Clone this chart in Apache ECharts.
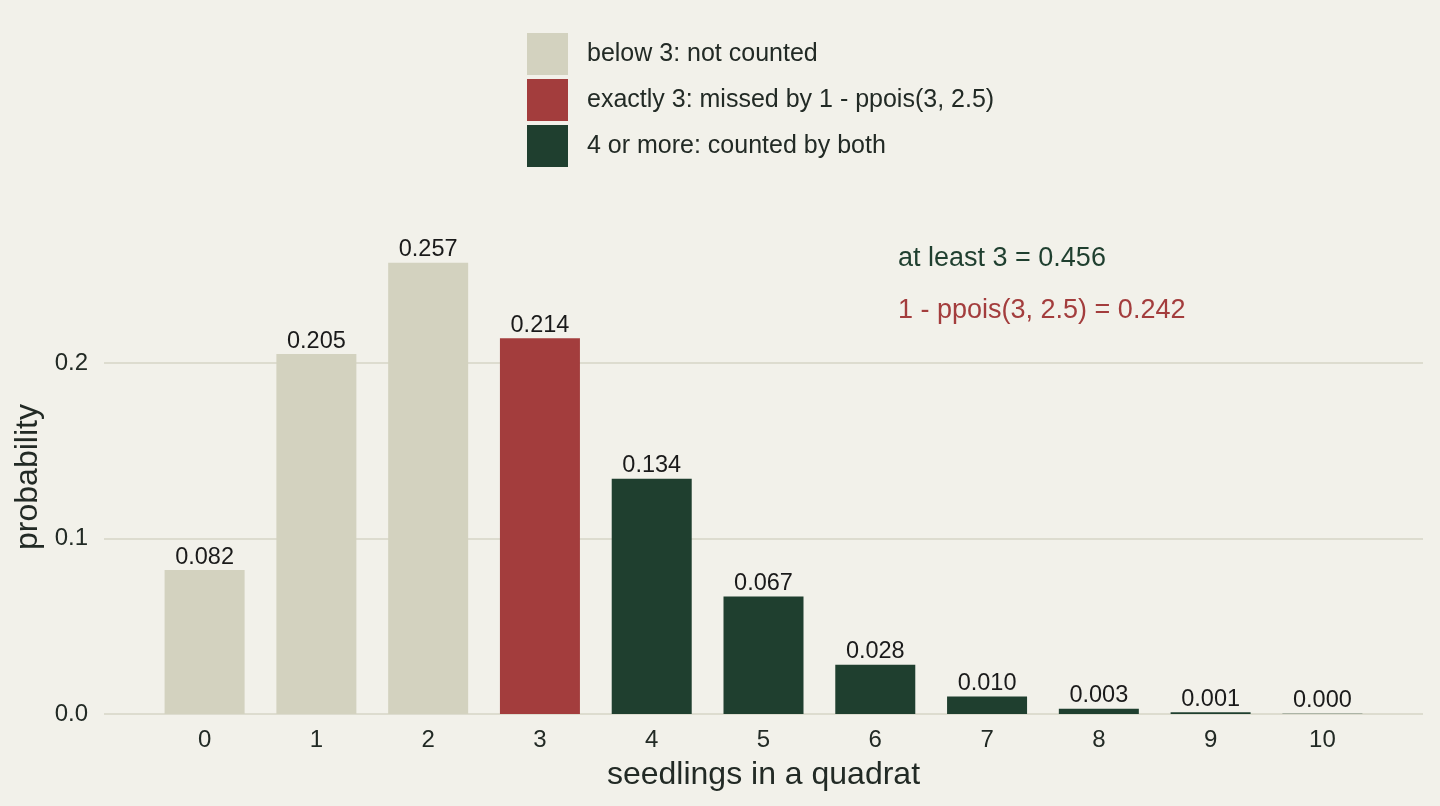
<!DOCTYPE html>
<html lang="en">
    <head>
        <meta charset="UTF-8" />
        <title>Seedlings per quadrat</title>
        <script src="https://cdn.jsdelivr.net/npm/echarts@6/dist/echarts.min.js"></script>
        <style>
            html, body { margin: 0; padding: 0; background: #f2f1ea; }
            #chart { width: 1440px; height: 806px; }
        </style>
    </head>
    <body>
        <div id="chart"></div>
        <script>
            // seedlings counted per quadrat and their probabilities
            const counts = [0, 1, 2, 3, 4, 5, 6, 7, 8, 9, 10];
            const probs = [0.082, 0.205, 0.257, 0.214, 0.134, 0.067, 0.028, 0.010, 0.003, 0.001, 0.0002];
            const groupNames = ["below 3: not counted", "exactly 3: missed by 1 - ppois(3, 2.5)", "4 or more: counted by both"];
            const groupColors = ["#d3d2bf", "#a33d3d", "#1f3f2f"];
            const yTicks = [0, 0.1, 0.2];
            const notes = ["at least 3 = 0.456", "1 - ppois(3, 2.5) = 0.242"];

            const textColor = "#222a25";
            const font = "Liberation Sans, Arial, sans-serif";

            //which group a count falls in
            function groupOf(k) {
                if (k < 3) return 0;
                if (k === 3) return 1;
                return 2;
            }

            const series = groupNames.map((name, g) => ({
                name: name,
                type: "bar",
                barWidth: 80,
                barGap: "-100%",
                itemStyle: { color: groupColors[g] },
                label: {
                    show: true,
                    position: "top",
                    distance: 1,
                    color: "#1a1a1a",
                    fontFamily: font,
                    fontSize: 23.5,
                    formatter: p => p.value[1].toFixed(3),
                },
                data: counts.filter(k => groupOf(k) === g).map(k => [k, probs[k]]),
            }));

            const chart = echarts.init(document.getElementById("chart"));
            chart.setOption({
                backgroundColor: "#f2f1ea",
                animation: false,
                textStyle: { fontFamily: font, color: textColor },
                grid: { left: 104, right: 17, top: 240, bottom: 92 },
                legend: {
                    orient: "vertical",
                    left: 522,
                    top: 28,
                    itemWidth: 41,
                    itemHeight: 42,
                    itemGap: 4,
                    icon: "rect",
                    selectedMode: false,
                    textStyle: { fontSize: 25, color: textColor, fontFamily: font, padding: [3, 0, 0, 14] },
                    data: groupNames,
                },
                xAxis: {
                    type: "value",
                    min: -0.9,
                    max: 10.9,
                    name: "seedlings in a quadrat",
                    nameLocation: "middle",
                    nameGap: 45,
                    nameTextStyle: { fontSize: 32, color: textColor },
                    axisLine: { show: false },
                    axisTick: { show: false },
                    splitLine: { show: false },
                    axisLabel: { customValues: counts, fontSize: 24, color: textColor, margin: 14 },
                },
                yAxis: {
                    type: "value",
                    min: 0,
                    max: 0.27,
                    name: "probability",
                    nameLocation: "middle",
                    nameGap: 59,
                    nameTextStyle: { fontSize: 32, color: textColor },
                    axisLine: { show: false },
                    axisTick: { show: false, customValues: yTicks },
                    axisLabel: { customValues: yTicks, fontSize: 24, color: textColor, margin: 16, formatter: v => v.toFixed(1) },
                    splitLine: { show: true, lineStyle: { color: "#d6d5c6", width: 1.5 } },
                },
                graphic: [
                    { type: "text", left: 898, top: 245, style: { text: notes[0], fill: groupColors[2], font: "27px " + font } },
                    { type: "text", left: 898, top: 297, style: { text: notes[1], fill: groupColors[1], font: "27px " + font } },
                ],
                series: series,
            });
        </script>
    </body>
</html>
